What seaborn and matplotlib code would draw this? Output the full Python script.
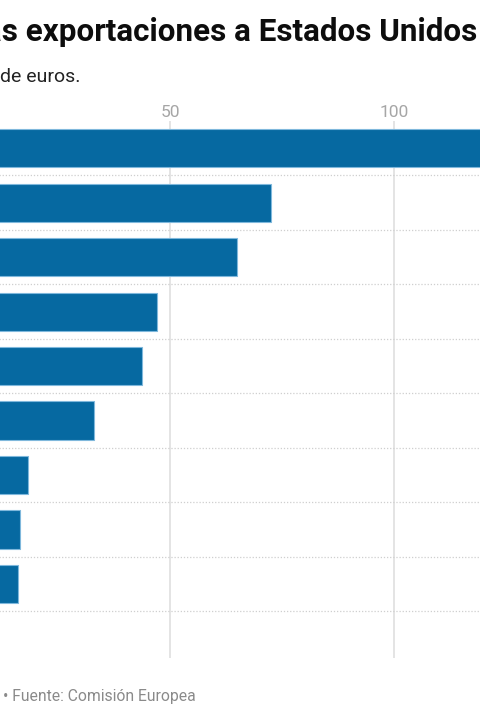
import pandas as pd
import numpy as np
import matplotlib.pyplot as plt
import seaborn as sns

sns.set_theme(style='white')
plt.rcParams['font.family'] = ['Roboto', 'DejaVu Sans']

# datos (miles de millones de euros)
paises = ['Alemania', 'Irlanda', 'Italia', 'Francia', 'Países Bajos',
          'Bélgica', 'España', 'Austria', 'Suecia']
valores = [161.0, 72.5, 65.0, 47.1, 43.6, 33.0, 18.3, 16.4, 16.0]
ticks_x = [0, 50, 100]

df = pd.DataFrame({'pais': paises, 'valor': valores})

W, H = 480, 720
fig = plt.figure(figsize=(W / 100, H / 100), dpi=100)

# eje: x=0 queda fuera del lienzo (-54 px), 4.48 px por unidad
xmax = 130
left_px, top_px, bottom_px = -54, 121, 658
ax = fig.add_axes([left_px / W, 1 - bottom_px / H,
                   xmax * 4.484 / W, (bottom_px - top_px) / H])

sns.barplot(data=df, x='valor', y='pais', color='#0669a1', width=0.7,
            edgecolor='#7fb8dc', linewidth=0.8, saturation=1, ax=ax)

ax.set_xticks(ticks_x)
ax.set_xlim(0, xmax)
ax.set_ylim(len(paises) - 0.5 + 0.86, -0.5)
ax.xaxis.tick_top()
ax.tick_params(axis='x', length=0, pad=0.5, labelsize=12.5, labelcolor='#a6a6a6')
ax.tick_params(axis='y', length=0)
ax.set_xlabel('')
ax.set_ylabel('')

ax.grid(axis='x', color='#e4e4e4', linewidth=1.4)
ax.set_yticks(np.arange(len(paises)) + 0.5, minor=True)
ax.grid(axis='y', which='minor', color='#cfcfcf', linestyle=(0, (1, 1.5)), linewidth=0.9)
ax.set_axisbelow(True)
for s in ax.spines.values():
    s.set_visible(False)

fig.text(477 / W, 1 - 32 / H, 'Las exportaciones a Estados Unidos', ha='right', va='center',
         fontsize=22.6, fontweight='bold', color='#0d0d0d')
fig.text(80 / W, 1 - 77 / H, 'En miles de millones de euros.', ha='right', va='center',
         fontsize=14, color='#222222')
fig.text(3 / W, 1 - 696 / H, '• Fuente: Comisión Europea', ha='left', va='center',
         fontsize=11.3, color='#8a8a8a')

fig.savefig('out.png', dpi=100)
